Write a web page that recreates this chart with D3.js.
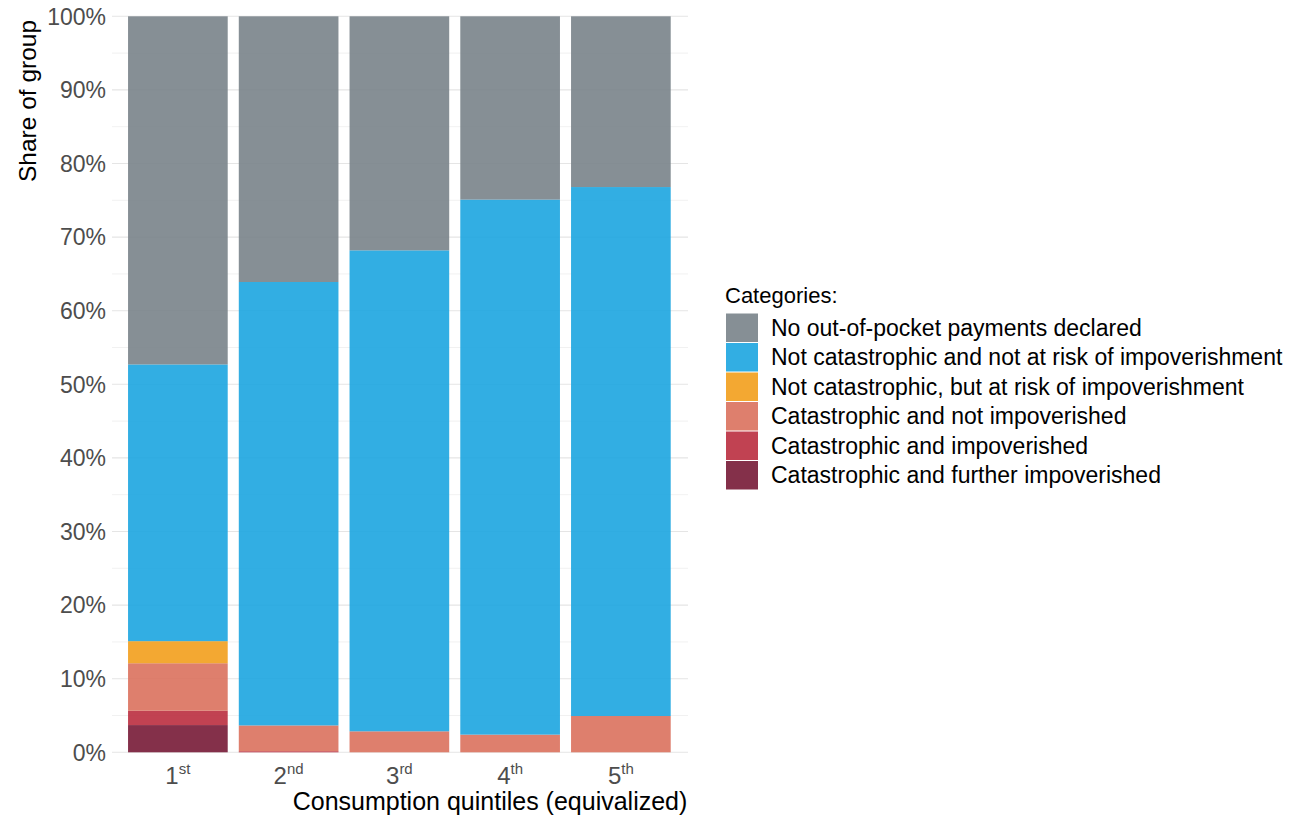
<!DOCTYPE html>
<html>
<head>
<meta charset="utf-8">
<script src="https://cdn.jsdelivr.net/npm/d3@7"></script>
<style>
  body { margin: 0; background: #fff; }
  text { font-family: "Liberation Sans", Arial, sans-serif; }
</style>
</head>
<body>
<div id="chart"></div>
<script>
// Data
var quintiles = ["1", "2", "3", "4", "5"];
var suffixes = ["st", "nd", "rd", "th", "th"];

// stack order, bottom to top
var categories = [
  "Catastrophic and further impoverished",
  "Catastrophic and impoverished",
  "Catastrophic and not impoverished",
  "Not catastrophic, but at risk of impoverishment",
  "Not catastrophic and not at risk of impoverishment",
  "No out-of-pocket payments declared"
];
var colors = ["#771936", "#BA2E3F", "#DA715D", "#F29E1C", "#1CA5E0", "#79838A"];

// shares (%) per quintile, one array per category
var furtherImpoverished = [3.7, 0, 0, 0, 0];
var impoverished        = [1.95, 0.15, 0, 0, 0];
var notImpoverished     = [6.45, 3.5, 2.85, 2.4, 4.93];
var atRisk              = [3.0, 0, 0, 0, 0];
var notCatastrophic     = [37.6, 60.25, 65.35, 72.7, 71.87];
var noPayments          = [47.3, 36.1, 31.8, 24.9, 23.2];

var yTicks = [0, 10, 20, 30, 40, 50, 60, 70, 80, 90, 100];
var yMinor = [5, 15, 25, 35, 45, 55, 65, 75, 85, 95];

var series = [furtherImpoverished, impoverished, notImpoverished, atRisk, notCatastrophic, noPayments];
var rows = quintiles.map((q, i) => {
  var r = {q: q};
  categories.forEach((c, j) => { r[c] = series[j][i]; });
  return r;
});

var width = 1289;
var height = 820;
var plotLeft = 112, plotRight = 688;

var svg = d3.select("#chart").append("svg")
  .attr("width", width)
  .attr("height", height);

var xScale = d3.scaleBand()
  .domain(quintiles)
  .range([122.5, 676.25])
  .paddingInner(0.1)
  .paddingOuter(0.05);

var yScale = d3.scaleLinear()
  .domain([0, 100])
  .range([752.3, 16.3]);

// grid
svg.append("g").selectAll("line.minor")
  .data(yMinor).enter().append("line")
  .attr("x1", plotLeft).attr("x2", plotRight)
  .attr("y1", d => yScale(d)).attr("y2", d => yScale(d))
  .style("stroke", "#EEEEEE").style("stroke-width", 0.8);

svg.append("g").selectAll("line.major")
  .data(yTicks).enter().append("line")
  .attr("x1", plotLeft).attr("x2", plotRight)
  .attr("y1", d => yScale(d)).attr("y2", d => yScale(d))
  .style("stroke", "#E5E5E5").style("stroke-width", 1.1);

// bars
var stacked = d3.stack().keys(categories)(rows);

svg.append("g").selectAll("g.layer")
  .data(stacked).enter().append("g")
  .style("fill", (d, i) => colors[i])
  .style("fill-opacity", 0.9)
  .selectAll("rect")
  .data(d => d).enter().append("rect")
  .attr("x", d => xScale(d.data.q))
  .attr("width", xScale.bandwidth())
  .attr("y", d => yScale(d[1]))
  .attr("height", d => yScale(d[0]) - yScale(d[1]));

// y axis labels
svg.append("g").selectAll("text")
  .data(yTicks).enter().append("text")
  .attr("x", 106)
  .attr("y", d => yScale(d))
  .attr("dy", "0.36em")
  .attr("text-anchor", "end")
  .style("font-size", "23px")
  .style("fill", "#4D4D4D")
  .text(d => d + "%");

// x axis labels with superscripts
var xLabels = svg.append("g").selectAll("text")
  .data(quintiles).enter().append("text")
  .attr("x", d => xScale(d) + xScale.bandwidth() / 2)
  .attr("y", 784)
  .attr("text-anchor", "middle")
  .style("font-size", "24px")
  .style("fill", "#4D4D4D");
xLabels.append("tspan").text(d => d);
xLabels.append("tspan")
  .attr("dy", -10)
  .style("font-size", "15px")
  .text((d, i) => suffixes[i]);

// axis titles
svg.append("text")
  .attr("x", 490)
  .attr("y", 810)
  .attr("text-anchor", "middle")
  .style("font-size", "25px")
  .style("fill", "#000")
  .text("Consumption quintiles (equivalized)");

svg.append("text")
  .attr("transform", "translate(36,101) rotate(-90)")
  .attr("text-anchor", "middle")
  .style("font-size", "24.5px")
  .style("fill", "#000")
  .text("Share of group");

// legend
var legend = svg.append("g").attr("transform", "translate(725,0)");
legend.append("text")
  .attr("x", 0).attr("y", 303)
  .style("font-size", "22px")
  .style("fill", "#000")
  .text("Categories:");

var legendOrder = categories.slice().reverse();
var legendColors = colors.slice().reverse();
var keyStep = 29.5;

var items = legend.selectAll("g.item")
  .data(legendOrder).enter().append("g")
  .attr("transform", (d, i) => "translate(0," + (313 + i * keyStep) + ")");

items.append("rect")
  .attr("x", 1).attr("y", 0.5)
  .attr("width", 32).attr("height", 28.5)
  .style("fill", (d, i) => legendColors[i])
  .style("fill-opacity", 0.9);

items.append("text")
  .attr("x", 46)
  .attr("y", 14.5)
  .attr("dy", "0.36em")
  .style("font-size", "23px")
  .style("fill", "#000")
  .text(d => d);
</script>
</body>
</html>
